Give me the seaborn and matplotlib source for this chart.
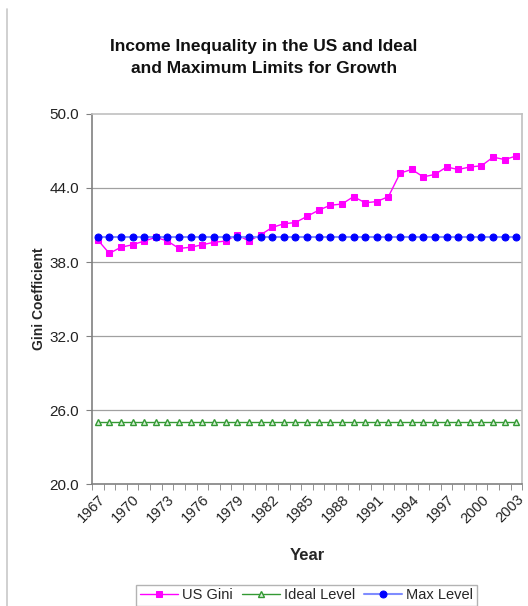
import matplotlib
matplotlib.use("Agg")
import matplotlib.pyplot as plt
import seaborn as sns
import pandas as pd
from matplotlib.lines import Line2D

# Data
years = list(range(1967, 2004))
us_gini = [39.8, 38.7, 39.2, 39.4, 39.7, 40.0, 39.7, 39.1, 39.2, 39.4,
           39.6, 39.7, 40.2, 39.7, 40.2, 40.8, 41.1, 41.2, 41.7, 42.2,
           42.6, 42.7, 43.3, 42.8, 42.9, 43.3, 45.2, 45.5, 44.9, 45.1,
           45.7, 45.5, 45.7, 45.8, 46.5, 46.3, 46.6]
ideal_value = 25.0
max_value = 40.0
ideal_level = [ideal_value] * len(years)
max_level = [max_value] * len(years)
tick_years = list(range(1967, 2004, 3))
y_ticks = [20.0, 26.0, 32.0, 38.0, 44.0, 50.0]

df = pd.DataFrame({"Year": years, "US Gini": us_gini,
                   "Ideal Level": ideal_level, "Max Level": max_level})

sns.set_style("white")
plt.rcParams["font.family"] = ["Liberation Sans", "DejaVu Sans"]

fig = plt.figure(figsize=(5.28, 6.06), dpi=100)
ax = fig.add_axes([0.174, 0.201, 0.815, 0.611])

grid_col = "#a0a0a0"
for y in y_ticks[1:-1]:
    ax.axhline(y, color=grid_col, lw=0.9, zorder=0)

sns.lineplot(data=df, x="Year", y="US Gini", ax=ax, color="#ff00ff", lw=1.0,
             marker="s", markersize=5, markeredgecolor="#ff00ff", label="US Gini")
sns.lineplot(data=df, x="Year", y="Ideal Level", ax=ax, color="#339933", lw=1.0,
             marker="^", markersize=5, markerfacecolor="#d9f0d9",
             markeredgecolor="#339933", markeredgewidth=1.0, label="Ideal Level")
sns.lineplot(data=df, x="Year", y="Max Level", ax=ax, color="#7f8cff", lw=1.5,
             marker="o", markersize=5, markerfacecolor="#0000ff",
             markeredgecolor="#0000ff", label="Max Level")

ax.set_xlim(1966.5, 2003.5)
ax.set_ylim(20, 50)
ax.set_yticks(y_ticks)
ax.set_yticklabels([f"{v:.1f}" for v in y_ticks], fontsize=11, color="#222222")
ax.set_xticks(tick_years)
ax.set_xticklabels([str(y) for y in tick_years], rotation=45, ha="right",
                   rotation_mode="anchor", fontsize=10.5, color="#222222")
ax.set_xticks([y + 0.5 for y in range(1966, 2004)], minor=True)
ax.tick_params(axis="x", which="major", length=0, pad=6)
ax.tick_params(axis="x", which="minor", length=4, color="#808080", direction="out", bottom=True)
ax.tick_params(axis="y", length=4, color="#808080", direction="out", left=True, pad=5)

for side in ["left", "bottom"]:
    ax.spines[side].set_color("#808080")
    ax.spines[side].set_linewidth(1.2)
for side in ["top", "right"]:
    ax.spines[side].set_color("#c0c0c0")
    ax.spines[side].set_linewidth(1.2)

ax.set_xlabel("Year", fontsize=12, fontweight="bold", labelpad=16)
ax.set_ylabel("Gini Coefficient", fontsize=10, fontweight="bold", labelpad=3)

fig.suptitle("Income Inequality in the US and Ideal\nand Maximum Limits for Growth",
             x=0.5, y=0.935, fontsize=12.5, fontweight="bold", color="#111111",
             linespacing=1.55)

leg = ax.legend(loc="lower center", ncol=3, frameon=True,
                fontsize=10.5, handlelength=2.6, columnspacing=0.6,
                handletextpad=0.3, borderpad=0.25, fancybox=False)
leg.set_bbox_to_anchor((0.581, -0.012), transform=fig.transFigure)
leg.get_frame().set_edgecolor("#a0a0a0")
leg.get_frame().set_linewidth(1.0)

# chart-area border on the left
fig.add_artist(Line2D([0.013, 0.013], [0.0, 0.985], transform=fig.transFigure,
                      color="#c8c8c8", lw=1.2))

fig.savefig("out.png", dpi=100)
